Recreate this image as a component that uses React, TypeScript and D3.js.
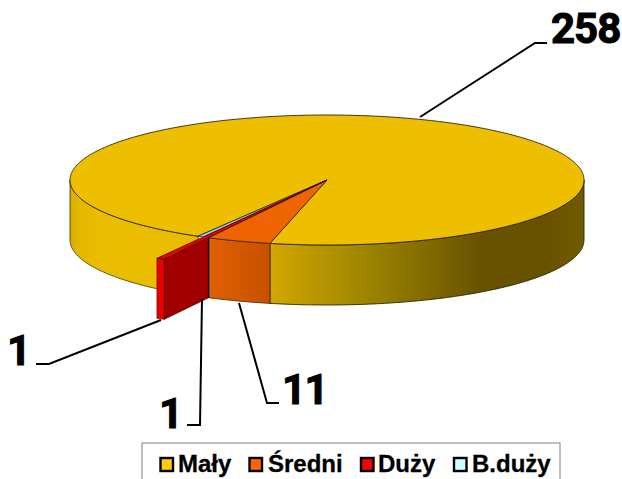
import React from "react";
import * as d3 from "d3";

const categories = ["Mały", "Średni", "Duży", "B.duży"];
const values = [258, 11, 1, 1];
const legendColors = ["#FFCC00", "#FF6600", "#FF0000", "#CCFFFF"];
const topColors = ["#EDBF00", "#EE6400", "#E80000", "#A8D8DC"];

const W = 622, H = 479;
const cx = 327, cy = 180, rx = 257, ry = 65, depth = 60;
const redReach = 1.375;

const sx = d3.scaleLinear().domain([-1, 1]).range([cx - rx, cx + rx]);
const sy = d3.scaleLinear().domain([-1, 1]).range([cy - ry, cy + ry]);

const TAU = Math.PI * 2;
const pie = d3.pie<number>().sort(null).startAngle((210.1 * Math.PI) / 180).endAngle(((210.1 + 360) * Math.PI) / 180);
const arcs = pie(values);

const pt = (a: number, r = 1, dz = 0): [number, number] => [sx(r * Math.sin(a)), sy(-r * Math.cos(a)) + dz];
const line = d3.line();
const samples = (a0: number, a1: number) => {
  const n = Math.max(2, Math.ceil(Math.abs(a1 - a0) / 0.01));
  return d3.range(n + 1).map((i) => a0 + ((a1 - a0) * i) / n);
};
const sector = (a0: number, a1: number, r = 1) =>
  line([[cx, cy], ...samples(a0, a1).map((a) => pt(a, r))]) + "Z";
const wall = (a0: number, a1: number) => {
  const s = samples(a0, a1);
  return line([...s.map((a) => pt(a)), ...s.slice().reverse().map((a) => pt(a, 1, depth))]) + "Z";
};

const yA = arcs[0], oA = arcs[1], rA = arcs[2], bA = arcs[3];
const HALF = Math.PI / 2;

export default function App() {
  const rimFrontRight = HALF;
  const rimFrontLeft = (3 * Math.PI) / 2;
  return (
    <svg width={W} height={H} style={{ position: "absolute", left: 0, top: 0, fontFamily: "'Liberation Sans', Arial, sans-serif", fontWeight: 700 }}>
      <defs>
        <linearGradient id="wallY" gradientUnits="userSpaceOnUse" x1={cx - rx} x2={cx + rx} y1={0} y2={0}>
          <stop offset="0" stopColor="#D8AE00" />
          <stop offset="0.02" stopColor="#E4B700" />
          <stop offset="0.06" stopColor="#EBBD00" />
          <stop offset="0.2" stopColor="#EBBD00" />
          <stop offset="0.39" stopColor="#D2A700" />
          <stop offset="0.6" stopColor="#978000" />
          <stop offset="0.8" stopColor="#685200" />
          <stop offset="0.92" stopColor="#685200" />
          <stop offset="1" stopColor="#705A00" />
        </linearGradient>
        <linearGradient id="wallO" gradientUnits="userSpaceOnUse" x1={209} x2={270} y1={0} y2={0}>
          <stop offset="0" stopColor="#E06000" />
          <stop offset="1" stopColor="#C85000" />
        </linearGradient>
      </defs>

      {/* yellow side walls */}
      <path d={wall(rimFrontRight, yA.endAngle - TAU)} fill="url(#wallY)" stroke="#2a2200" strokeWidth={0.9} />
      <path d={wall(yA.startAngle, rimFrontLeft)} fill="url(#wallY)" stroke="#3a3000" strokeWidth={0.8} />

      {/* top of large slice */}
      <path d={sector(yA.startAngle, yA.endAngle)} fill={topColors[0]} stroke="#2a2200" strokeWidth={0.9} />

      {/* orange slice */}
      <path d={wall(oA.startAngle, oA.endAngle)} fill="url(#wallO)" stroke="#4a3000" strokeWidth={0.9} />
      <path d={sector(oA.startAngle, oA.endAngle)} fill={topColors[1]} stroke="#3a2000" strokeWidth={0.8} />

      {/* light slice */}
      <path d={sector(bA.startAngle, bA.endAngle)} fill={topColors[3]} stroke="#222" strokeWidth={0.8} />

      {/* protruding red slice */}
      <path
        d={line([pt(rA.startAngle), pt(rA.startAngle, redReach), pt(rA.startAngle, redReach, depth), pt(rA.startAngle, 1, depth)]) + "Z"}
        fill="#A20000"
        stroke="#300"
        strokeWidth={0.8}
      />
      <path
        d={line([pt(rA.startAngle, redReach), pt(rA.endAngle, redReach), pt(rA.endAngle, redReach, depth), pt(rA.startAngle, redReach, depth)]) + "Z"}
        fill="#E60000"
        stroke="#500"
        strokeWidth={0.6}
      />
      <path d={sector(rA.startAngle, rA.endAngle, redReach)} fill={topColors[2]} stroke="#300" strokeWidth={0.7} />
      <path d={line([pt(rA.startAngle), pt(rA.startAngle, 1, depth)]) ?? ""} stroke="#000" strokeWidth={1.4} fill="none" />

      {/* leader lines */}
      <g fill="none" stroke="#000" strokeWidth={2}>
        <polyline points="420,117 535,43 547,43" />
        <polyline points="161,320 49,364 36,364" />
        <polyline points="202,299 200,425 187,425" />
        <polyline points="239,303 267,403 279,403" />
      </g>

      {/* value labels */}
      <g fontSize={42} fill="#000" stroke="#000" strokeWidth={1} style={{ fontFamily: "Roboto, 'Liberation Sans', sans-serif" }}>
        <text x={551} y={43} letterSpacing={-1}>{values[0]}</text>
        <text x={282} y={404} letterSpacing={-1.5}>{values[1]}</text>
        <text x={159} y={428}>{values[2]}</text>
        <text x={7} y={365}>{values[3]}</text>
      </g>

      {/* legend */}
      <rect x={142} y={443} width={418} height={60} fill="#fff" stroke="#808080" strokeWidth={1} />
      {categories.map((c, i) => {
        const sw = [160.5, 249.5, 361, 454][i];
        const tx = [178, 268, 378, 472][i];
        return (
          <g key={c}>
            <rect x={sw} y={458} width={12.5} height={13} fill={legendColors[i]} stroke="#000" strokeWidth={2.4} />
            <text x={tx} y={472} fontSize={24} fill="#000" stroke="#000" strokeWidth={0.3}>{c}</text>
          </g>
        );
      })}
    </svg>
  );
}
